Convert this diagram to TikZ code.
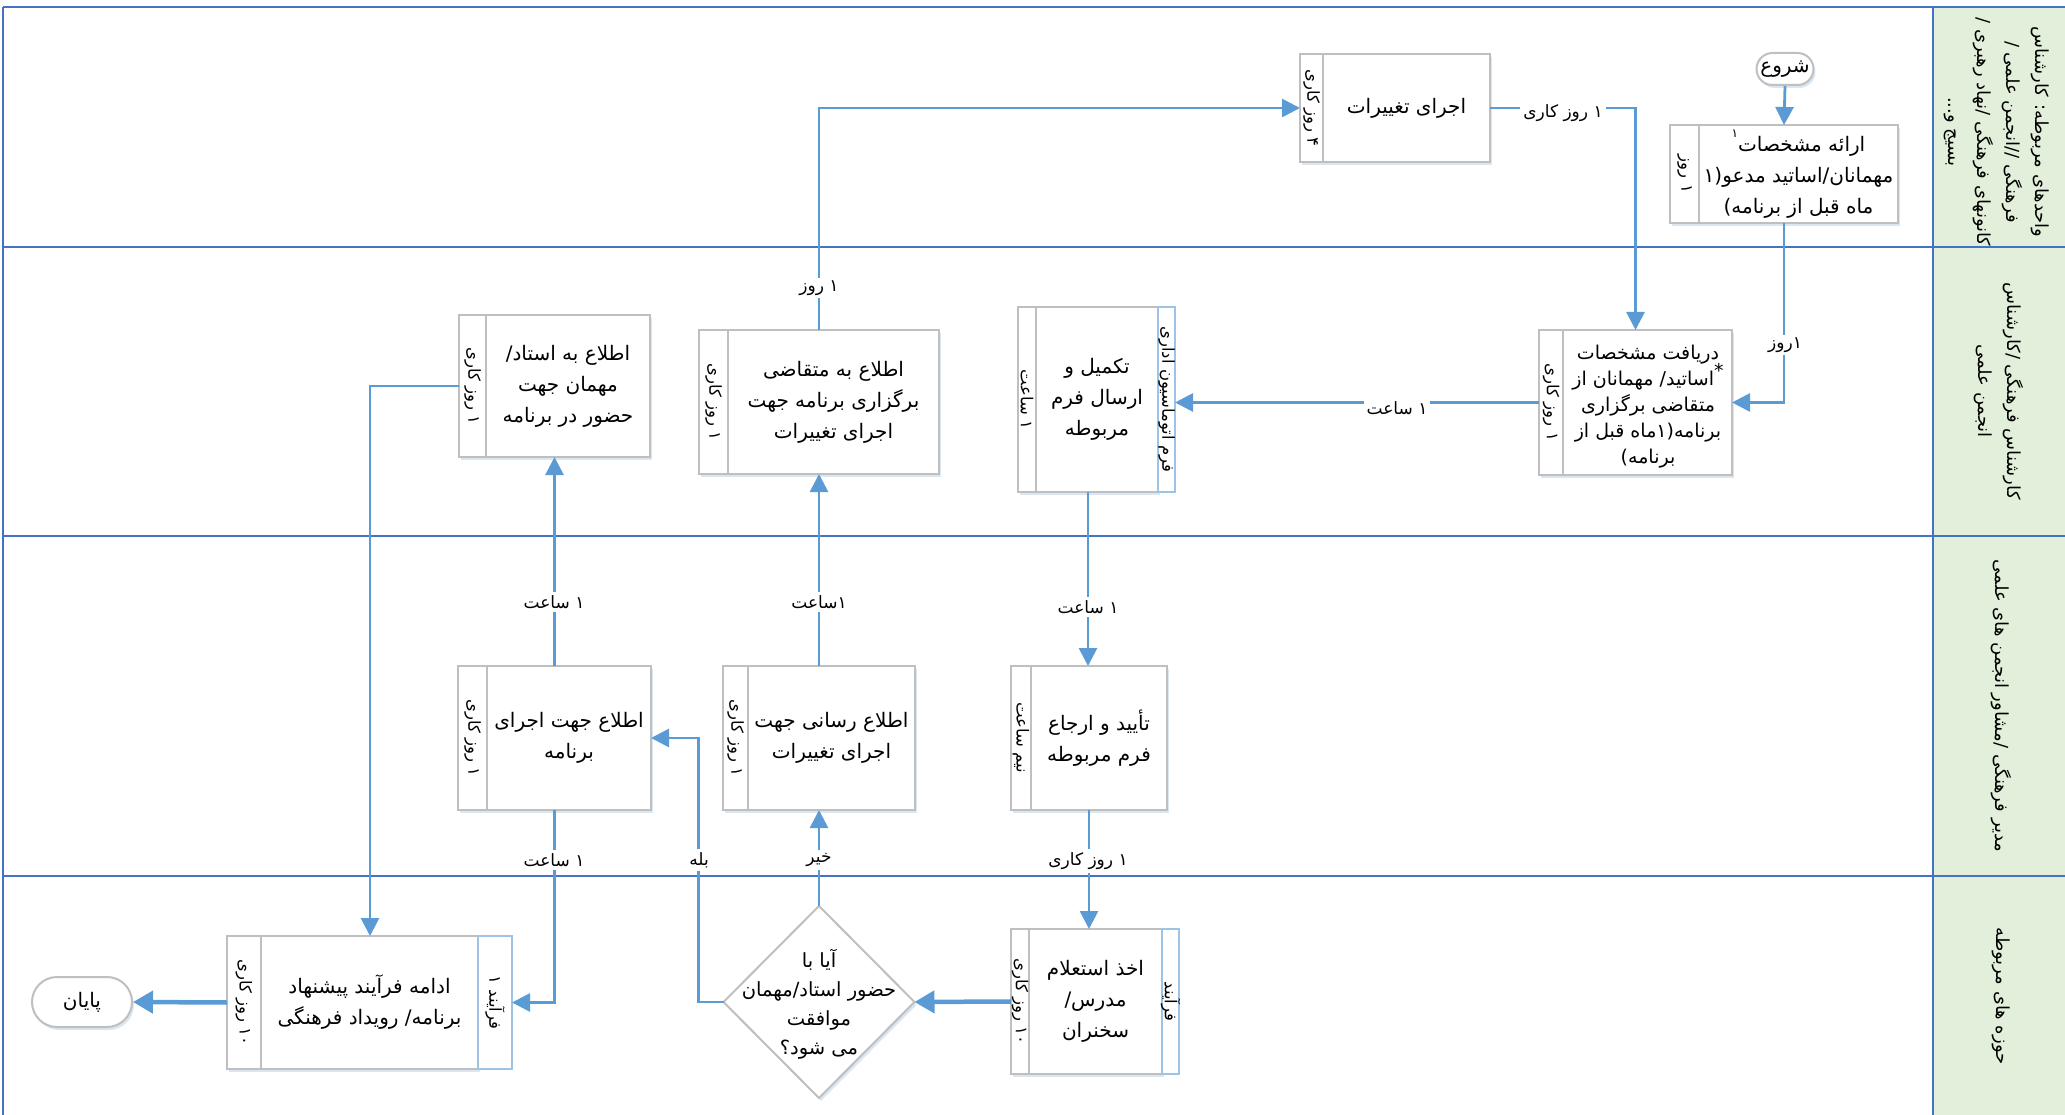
\documentclass[tikz,border=0pt]{standalone}
\usepackage{fontspec}
\usetikzlibrary{arrows.meta,shapes.geometric,shadows,calc,fit}
\TeXXeTstate=1
\newfontfamily\farsi[Script=Arabic]{DejaVu Sans}
\newcommand{\pers}[1]{\beginR #1\endR}
\definecolor{connc}{RGB}{91,155,213}
\definecolor{lanec}{RGB}{68,114,196}
\definecolor{headc}{RGB}{226,239,218}
\definecolor{boxc}{RGB}{191,191,191}
\definecolor{stripc}{RGB}{157,195,230}
\definecolor{shadc}{RGB}{210,224,240}
\newcommand{\pbox}[8]{%
  \node[box, fit={(#2,#3) (#4,#5)}] (#1) {};
  \draw[boxc, line width=1.5pt] ($(#1.north west)+(#6,0)$) -- ($(#1.south west)+(#6,0)$);
  \node[txt] (#1t) at ($(#1.center)+(#6/2,0)$) {#7};
  \node[stxt] (#1s) at ($(#1.west)+(#6/2,0)$) {#8};
}
\begin{document}
\begin{tikzpicture}[x=1pt,y=-1pt,
  box/.style={draw=boxc, line width=2pt, fill=white, inner sep=0pt, outer sep=0pt,
    drop shadow={shadow xshift=2pt, shadow yshift=-3pt, fill=shadc, opacity=0.8}},
  bstrip/.style={draw=stripc, line width=1.5pt, fill=white, inner sep=0pt, outer sep=0pt},
  txt/.style={font=\farsi\fontsize{20}{31}\selectfont, align=center, inner sep=0pt},
  stxt/.style={font=\farsi\fontsize{16.5}{18}\selectfont, rotate=-90, inner sep=0pt},
  lbl/.style={font=\farsi\fontsize{17}{18}\selectfont, fill=white, inner sep=3pt},
  lanetxt/.style={font=\farsi\fontsize{18}{29}\selectfont, rotate=-90, align=center, inner sep=0pt},
  conn/.style={draw=connc, line width=2.8pt, -{Triangle[length=18pt,width=18pt]}},
  hconn/.style={draw=connc, line width=4.5pt, -{Triangle[length=20pt,width=22pt]}},
  term/.style={draw=boxc, line width=2pt, fill=white, inner sep=0pt,
    font=\farsi\fontsize{20}{24}\selectfont,
    drop shadow={shadow xshift=2pt, shadow yshift=-3pt, fill=shadc, opacity=0.8}}
]
\useasboundingbox (0,0) rectangle (2065,1115);
% lanes
\fill[headc] (1933,7) rectangle (2065,1115);
\draw[lanec, line width=2.5pt] (3,7) -- (2065,7);
\draw[lanec, line width=2.5pt] (3,247) -- (2065,247);
\draw[lanec, line width=2.5pt] (3,536) -- (2065,536);
\draw[lanec, line width=2.5pt] (3,876) -- (2065,876);
\draw[lanec, line width=2.5pt] (3,7) -- (3,1115);
\draw[lanec, line width=2.5pt] (1933,7) -- (1933,1115);
\node[lanetxt] (lane1) at (1997,132) {\pers{واحدهای مربوطه: کارشناس}\\ \pers{فرهنگی //انجمن علمی /}\\ \pers{کانونهای فرهنگی /نهاد رهبری /}\\ \pers{بسیج و...}};
\node[lanetxt] (lane2) at (1999,391) {\pers{کارشناس فرهنگی /کارشناس}\\ \pers{انجمن علمی}};
\node[lanetxt] (lane3) at (2001,706) {\pers{مدیر فرهنگی /مشاور انجمن های علمی}};
\node[lanetxt] (lane4) at (2001,996) {\pers{حوزه های مربوطه}};

% terminators
\node[term, minimum width=57pt, minimum height=32pt, rounded corners=16pt] (st) at (1785,69) {\pers{شروع}};
\node[term, minimum width=100pt, minimum height=50pt, rounded corners=25pt] (en) at (82,1002) {\pers{پایان}};

% boxes
\pbox{b2}{1670}{125}{1898}{223}{29}{\pers{ارائه مشخصات\raisebox{0.7em}{\fontsize{12}{12}\selectfont ۱}}\\ \pers{مهمانان/اساتید مدعو(۱}\\ \pers{ماه قبل از برنامه)}}{\pers{۱ روز}}
\pbox{b3}{1300}{54}{1490}{162}{23}{\pers{اجرای تغییرات}}{\pers{۴ روز کاری}}
\node[box, fit={(1539,330) (1732,475)}] (b4) {};
\draw[boxc, line width=1.5pt] ($(b4.north west)+(24,0)$) -- ($(b4.south west)+(24,0)$);
\node[txt, font=\farsi\fontsize{19}{26}\selectfont] (b4t) at (1648,407) {\pers{دریافت مشخصات}\\ \pers{\smash{\raisebox{0.45em}{*}}اساتید/ مهمانان از}\\ \pers{متقاضی برگزاری}\\ \pers{برنامه(۱ماه قبل از}\\ \pers{برنامه)}};
\node[stxt] (b4s) at ($(b4.west)+(12,0)$) {\pers{۱ روز کاری}};
\pbox{b5}{1018}{307}{1158}{492}{18}{\pers{تکمیل و}\\ \pers{ارسال فرم}\\ \pers{مربوطه}}{\pers{۱ ساعت}}
\node[bstrip, fit={(1158,307) (1175,492)}] (b5r) {};
\node[stxt] (b5rt) at (b5r.center) {\pers{فرم اتوماسیون اداری}};
\pbox{b6}{699}{330}{939}{474}{29}{\pers{اطلاع به متقاضی}\\ \pers{برگزاری برنامه جهت}\\ \pers{اجرای تغییرات}}{\pers{۱ روز کاری}}
\pbox{b7}{459}{315}{650}{457}{27}{\pers{اطلاع به استاد/}\\ \pers{مهمان جهت}\\ \pers{حضور در برنامه}}{\pers{۱ روز کاری}}
\pbox{b9}{458}{666}{651}{810}{29}{\pers{اطلاع جهت اجرای}\\ \pers{برنامه}}{\pers{۱ روز کاری}}
\pbox{b8}{723}{666}{915}{810}{25}{\pers{اطلاع رسانی جهت}\\ \pers{اجرای تغییرات}}{\pers{۱ روز کاری}}
\pbox{b11}{1011}{666}{1167}{810}{20}{\pers{تأیید و ارجاع}\\ \pers{فرم مربوطه}}{\pers{نیم ساعت}}
\pbox{b12}{1011}{929}{1162}{1074}{18}{\pers{اخذ استعلام}\\ \pers{مدرس/}\\ \pers{سخنران}}{\pers{۱۰ روز کاری}}
\node[bstrip, fit={(1162,929) (1179,1074)}] (b12r) {};
\node[stxt] (b12rt) at (b12r.center) {\pers{فرآیند}};
\pbox{b10}{227}{936}{478}{1069}{34}{\pers{ادامه فرآیند پیشنهاد}\\ \pers{برنامه/ رویداد فرهنگی}}{\pers{۱۰ روز کاری}}
\node[bstrip, fit={(478,936) (512,1069)}] (b10r) {};
\node[stxt] (b10rt) at (b10r.center) {\pers{فرآیند ۱}};

% decision
\node[draw=boxc, line width=2pt, fill=white, diamond, minimum width=191pt, minimum height=192pt, inner sep=0pt, outer sep=0pt,
  drop shadow={shadow xshift=2pt, shadow yshift=-3pt, fill=shadc, opacity=0.8}] (dq) at (819,1002) {};
\node[txt, font=\farsi\fontsize{19.5}{29}\selectfont] (dqt) at (819,1004) {\pers{آیا با}\\ \pers{حضور استاد/مهمان}\\ \pers{موافقت}\\ \pers{می شود؟}};

% connectors
\draw[conn] (st.south) -- (b2.north);
\draw[conn] (b2.south) |- (b4.east);
\draw[conn] (b3.east) -| (b4.north);
\draw[conn] (b4.west) -- (b4.west -| b5r.east);
\draw[conn] (b5.south) -- (b5.south |- b11.north);
\draw[conn] (b11.south) -- (b11.south |- b12.north);
\draw[hconn] (b12.west) -- (dq.east);
\draw[conn] (dq.north) -- (b8.south);
\draw[conn] (dq.west) -- ++(-25,0) |- (b9.east);
\draw[conn] (b8.north) -- (b6.south);
\draw[conn] (b6.north) |- (b3.west);
\draw[conn] (b9.north) -- (b7.south);
\draw[conn] (b7.west) -| ($(b10.north west)+(143,0)$);
\draw[conn] (b9.south) |- (b10r.east);
\draw[hconn] (b10.west) -- (en.east);

% labels
\node[lbl] (l2) at (1785,345) {\pers{۱روز}};
\node[lbl] (l3) at (1563,113) {\pers{۱ روز کاری}};
\node[lbl] (l4) at (1397,408) {\pers{۱ ساعت}};
\node[lbl] (l5) at (1088,607) {\pers{۱ ساعت}};
\node[lbl] (l6) at (1088,861) {\pers{۱ روز کاری}};
\node[lbl] (l8) at (819,860) {\pers{خیر}};
\node[lbl] (l9) at (699,860) {\pers{بله}};
\node[lbl] (l10) at (819,602) {\pers{۱ساعت}};
\node[lbl] (l11) at (819,288) {\pers{۱ روز}};
\node[lbl] (l12) at (554,602) {\pers{۱ ساعت}};
\node[lbl] (l14) at (554,860) {\pers{۱ ساعت}};
\end{tikzpicture}
\end{document}
